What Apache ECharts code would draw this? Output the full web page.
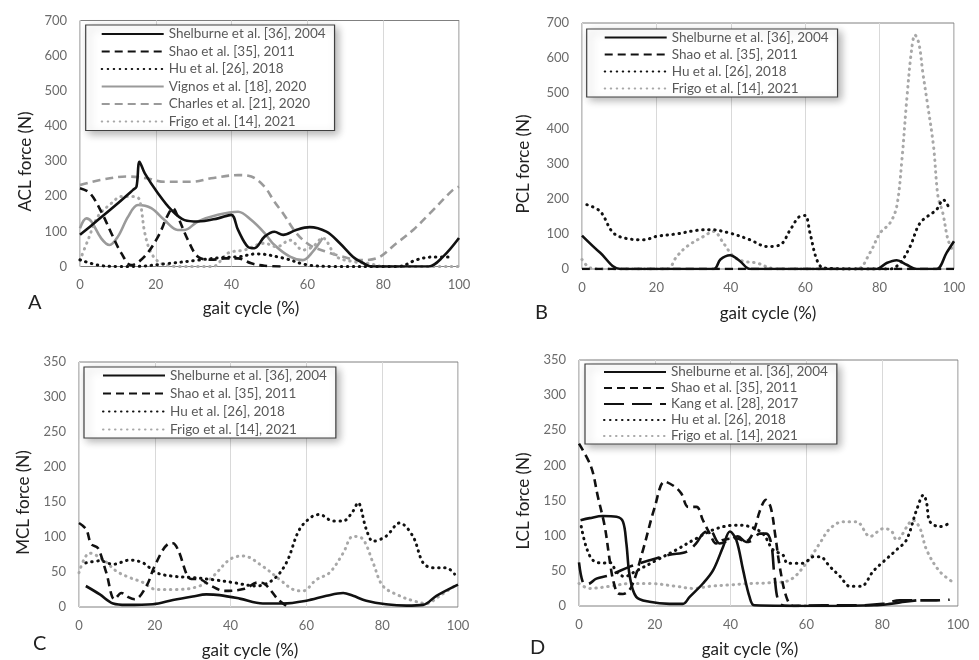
<!DOCTYPE html>
<html><head><meta charset="utf-8">
<script src="https://cdn.jsdelivr.net/npm/echarts@6/dist/echarts.min.js"></script>
<style>html,body{margin:0;padding:0;background:#fff}#c{width:979px;height:660px}</style>
</head><body><div id="c"></div>
<script>
// ---- series names ----
const N_SHEL = "Shelburne et al. [36], 2004";
const N_SHAO = "Shao et al. [35], 2011";
const N_KANG = "Kang et al. [28], 2017";
const N_HU   = "Hu et al. [26], 2018";
const N_VIG  = "Vignos et al. [18], 2020";
const N_CHA  = "Charles et al. [21], 2020";
const N_FRI  = "Frigo et al. [14], 2021";

const panelLetters = ["A", "B", "C", "D"];
const yTitles = ["ACL force (N)", "PCL force (N)", "MCL force (N)", "LCL force (N)"];
const xTitle = "gait cycle (%)";

// ---- A: ACL ----
const aclShel = [[0,90],[4.7,132],[10,180],[14,218],[14.9,227],[15.7,298],[17.1,265],[20.6,208],[24.1,161],[27.6,132],[31.1,128],[36.4,137],[39.9,147],[41.7,104],[44.3,56],[46,52],[48.7,85],[51.3,99],[53.6,90],[57,104],[60.6,112],[65,99],[68.5,67],[72,28],[74.7,10],[77,0],[92,0],[95.8,28],[100,81]];
const aclShao = [[0,223],[2.6,209],[5.6,156],[8.3,94],[10.9,38],[13.5,4],[17,28],[20.6,85],[23.2,147],[24.5,166],[25.8,142],[28.5,75],[31.1,28],[34.6,19],[38.2,23],[41.7,23],[45.2,9],[48.7,2],[54,0]];
const aclHu = [[0,19],[4.7,4],[10,0],[14,0],[22.8,8],[31.1,18],[37,25],[42,28],[46.6,36],[53.6,24],[59.8,5],[66.8,0],[84,0],[88.8,19],[93,27],[97.5,27]];
const aclVig = [[0,109],[1.7,137],[3,128],[5.6,80],[7.8,61],[10,85],[12.7,142],[15.3,175],[18.8,166],[22.3,132],[25.8,104],[27.6,104],[31.1,128],[36.4,147],[41.7,156],[45.2,132],[48.7,95],[51.3,61],[55.4,28],[58.8,18],[61.4,42],[64,81]];
const aclCha = [[0,232],[5.3,246],[12.3,256],[17.6,251],[22.3,241],[29.4,241],[34.6,251],[41.7,260],[45.2,256],[48.7,227],[51.3,184],[53.6,151],[57.1,95],[60.6,61],[65,42],[69.4,28],[73.8,18],[78.2,23],[83.5,66],[87.9,104],[92.3,151],[98.4,218],[100,227]];
const aclFri = [[0,18],[2.1,75],[4.7,142],[8.3,180],[10.9,199],[14.4,199],[15.7,190],[17.1,95],[18.8,38],[21.4,9],[25.8,0],[35,0],[39,38],[43.4,47],[48.7,66],[51.9,56],[55.4,75],[58.8,47],[61.4,56],[64,81],[67.7,28],[72,14],[76.5,8],[80,0],[100,0]];

// ---- B: PCL ----
const pclShel = [[0,95],[4.9,46],[10.3,0],[35.4,0],[37.2,27],[39.8,39],[42.5,22],[45.2,0],[79.2,0],[81.9,17],[84.6,25],[87.3,12],[90,0],[95.3,0],[98,46],[100,79]];
const pclShao = [[0,0],[100,0]];
const pclHu = [[1.3,183],[4.9,164],[8.5,102],[13,85],[16.6,83],[20.1,93],[25.5,100],[30.9,110],[34.5,112],[39.8,102],[45.2,83],[49.7,64],[53.3,69],[56,112],[58.6,150],[60,152],[61.3,102],[63.1,27],[64.9,3],[73.9,0],[82.8,0],[85.5,17],[88.2,64],[90.9,131],[95.3,169],[97.1,197],[98.9,169]];
const pclFri = [[0,27],[2.2,3],[5.8,0],[22.8,0],[25.5,36],[28.2,64],[32.7,93],[35.4,107],[38,74],[40.7,36],[43.4,22],[47,17],[50.6,3],[54,0],[73.9,0],[77.4,46],[80.1,102],[82.8,131],[84.6,178],[86,311],[87.3,482],[88.6,624],[89.5,666],[90.6,640],[91.6,560],[92.7,482],[94.5,349],[95.7,206],[97,159],[98.4,83],[100,46]];

// ---- C: MCL ----
const mclShel = [[1.8,30],[5.5,18],[9,5],[12.5,3],[19.5,4],[24.8,10],[30,15],[33.6,18],[37.1,17],[42.4,12],[48.5,5],[53.8,5],[60,9],[65.3,16],[69.7,20],[72.3,16],[75.8,9],[81,4],[86.4,2],[90.8,3],[94.3,16],[100,32]];
const mclShao = [[0,120],[1.9,111],[3.2,90],[5,84],[7.2,49],[9.4,11],[11.2,20],[13,14],[14.7,11],[17.8,30],[20,59],[23.5,90],[24.8,91],[26.1,82],[29.6,40],[31.4,40],[34.9,30],[38.4,23],[43.7,26],[47.2,35],[49,33],[52.5,11],[55.1,0]];
const mclHu = [[1.8,63],[5.5,66],[9,61],[13.4,67],[16.9,63],[20.4,49],[24.8,44],[30,42],[35.4,39],[40.6,35],[46.8,30],[51.2,39],[54.7,63],[58.2,111],[61.7,130],[63.5,132],[67,123],[69.7,123],[72.3,137],[73.6,149],[75.8,111],[77.6,94],[81,101],[84.6,120],[88.1,101],[90.8,63],[93.4,56],[96.9,56],[99.1,47]];
const mclFri = [[0,49],[2.8,77],[6.3,68],[9.9,51],[13.4,42],[16.9,35],[20.4,25],[25.7,25],[31.8,30],[35.4,44],[39.8,68],[43.3,73],[48.5,58],[53,39],[56.5,25],[59.1,23],[62.6,39],[66.1,49],[69.7,77],[72.3,101],[74.9,97],[77.6,63],[80.2,30],[84.6,16],[88.1,9],[91.6,5],[95.2,16],[99.6,32]];

// ---- D: LCL ----
const lclShel = [[0.4,122],[2.8,125],[6.3,128],[9.9,127],[11.6,120],[12.5,89],[13.4,42],[15.1,13],[18.6,6],[23.9,3],[27.4,3],[29.2,13],[32.7,32],[35.4,51],[38,84],[39.8,106],[41.5,94],[43.3,51],[45,13],[46.3,1],[64,0],[78,1],[82,3],[86,6],[89,8]];
const lclShao = [[0,231],[3.2,198],[5,155],[6.8,113],[8.1,65],[9,37],[10.3,18],[11.6,17],[13.8,27],[16.9,80],[20,141],[22.6,177],[25.2,170],[27,160],[28.8,141],[31,141],[32.7,122],[34.5,103],[36.2,89],[38,94],[41.5,96],[44,92],[46,105],[47.7,135],[49.3,151],[50.6,140],[51.8,100],[53,55],[54.7,13],[56.5,0],[60,0]];
const lclKang = [[0,62],[1.5,30],[2.8,32],[4.6,39],[8.1,44],[13.4,56],[18.6,65],[23.9,73],[28.3,77],[30.9,89],[32.7,103],[34.5,108],[37.1,89],[39.8,94],[41.9,99],[44.1,91],[45.9,94],[47.7,103],[49.4,103],[50.7,89],[51.6,42],[52.9,4],[55.6,0],[64.4,1],[73.2,1],[80.2,3],[84.6,8],[88.1,8],[94.3,8],[97.8,9]];
const lclHu = [[0.6,113],[1.9,84],[3.7,65],[6.3,61],[8.1,62],[10,48],[12,42],[15.1,50],[20.4,65],[25.7,80],[30.9,96],[36.2,110],[41.5,115],[45,113],[48.5,103],[51.2,80],[53.9,72],[55,61],[59.2,61],[61.8,70],[63.6,70],[66.2,56],[68.9,42],[71.5,28],[74.4,28],[77.7,50],[80.3,63],[83.8,80],[86.4,94],[89.1,137],[90.9,158],[91.7,147],[92.6,120],[95.2,113],[97.9,118]];
const lclFri = [[0,32],[2.8,25],[8.1,28],[13.4,32],[18.6,32],[25.7,28],[30.1,25],[34.5,28],[39.8,30],[45,32],[50.3,33],[55.6,37],[60,61],[63.5,89],[66.2,110],[69.7,120],[73.2,120],[76.8,99],[80.3,110],[82.4,107],[83.8,94],[88.2,122],[90,110],[91.7,80],[95.2,49],[99.2,32]];

// ---- styles ----
const FONT = "Lato";
const BLACK = "#111";
const GRAY = "#9a9a9a";
const LGRAY = "#a8a8a8";
const styles = {};
styles[N_SHEL] = {color: BLACK, width: 2.6, type: "solid"};
styles[N_SHAO] = {color: BLACK, width: 2.6, type: [8, 5]};
styles[N_KANG] = {color: BLACK, width: 2.6, type: [20, 8]};
styles[N_HU]   = {color: BLACK, width: 3, type: [0.5, 5.5], cap: "round"};
styles[N_VIG]  = {color: GRAY, width: 2.6, type: "solid"};
styles[N_CHA]  = {color: GRAY, width: 2.6, type: [8, 5]};
styles[N_FRI]  = {color: LGRAY, width: 3, type: [0.5, 5.5], cap: "round"};

const grids = [
  {left: 80, top: 20.5, width: 379, height: 246},
  {left: 582, top: 23, width: 372, height: 246},
  {left: 79, top: 362, width: 379, height: 246},
  {left: 579, top: 360, width: 379, height: 246}
];
const yMax = [700, 700, 350, 350];
const yInt = [100, 100, 50, 50];
const xNameGap = [34, 36, 35, 35];
const xNamePad = [[0, 37, 0, 0], [0, 0, 0, 0], [0, 37, 0, 0], [0, 37, 0, 0]];
const yNameGap = [46, 50, 47, 47];

const panels = [
  [[N_SHEL, aclShel], [N_SHAO, aclShao], [N_HU, aclHu], [N_VIG, aclVig], [N_CHA, aclCha], [N_FRI, aclFri]],
  [[N_SHEL, pclShel], [N_SHAO, pclShao], [N_HU, pclHu], [N_FRI, pclFri]],
  [[N_SHEL, mclShel], [N_SHAO, mclShao], [N_HU, mclHu], [N_FRI, mclFri]],
  [[N_SHEL, lclShel], [N_SHAO, lclShao], [N_KANG, lclKang], [N_HU, lclHu], [N_FRI, lclFri]]
];

const legendPos = [
  {left: 85.7, top: 25, itemGap: 3.5, padding: [2, 9, 2, 15]},
  {left: 586.7, top: 29, itemGap: 3, padding: [1.5, 9, 1.5, 17]},
  {left: 84, top: 367, itemGap: 4, padding: [1.5, 9, 1.5, 18]},
  {left: 585, top: 364, itemGap: 2, padding: [1, 9, 1, 18]}
];
const letterPos = [[28, 293], [535, 303], [33, 634], [530, 638]];

const series = [];
panels.forEach((p, i) => {
  p.forEach(([name, data]) => {
    const s = styles[name];
    series.push({
      type: "line", name: name, xAxisIndex: i, yAxisIndex: i,
      data: data, smooth: 0.35, symbol: "none", showSymbol: false,
      silent: true, animation: false,
      itemStyle: {color: s.color},
      lineStyle: {color: s.color, width: s.width, type: s.type, cap: s.cap || "butt", join: "round"},
      z: name === N_FRI || name === N_VIG || name === N_CHA ? 2 : 3
    });
  });
});

const option = {
  animation: false,
  textStyle: {fontFamily: FONT},
  grid: grids.map(g => Object.assign({show: true, borderColor: "#808080", borderWidth: 1, backgroundColor: "transparent"}, g)),
  xAxis: grids.map((g, i) => ({
    type: "value", gridIndex: i, min: 0, max: 100, interval: 20,
    name: xTitle, nameLocation: "middle", nameGap: xNameGap[i],
    nameTextStyle: {fontSize: 17, color: "#222", fontFamily: FONT, padding: xNamePad[i]},
    axisLine: {show: false}, axisTick: {show: false},
    axisLabel: {fontSize: 13, color: "#6b6b6b", margin: 12, fontFamily: FONT},
    splitLine: {show: true, lineStyle: {color: "#d9d9d9", width: 1}}
  })),
  yAxis: grids.map((g, i) => ({
    type: "value", gridIndex: i, min: 0, max: yMax[i], interval: yInt[i],
    name: yTitles[i], nameLocation: "middle", nameGap: yNameGap[i], nameRotate: 90,
    nameTextStyle: {fontSize: 17, color: "#222", fontFamily: FONT, padding: [0, 36, 0, 0]},
    axisLine: {show: false}, axisTick: {show: false},
    axisLabel: {fontSize: 13, color: "#6b6b6b", margin: 13, fontFamily: FONT},
    splitLine: {show: false}
  })),
  legend: panels.map((p, i) => Object.assign({
    orient: "vertical", data: p.map(d => d[0]),
    itemWidth: 62, itemHeight: 14,
    itemStyle: {opacity: 0, borderWidth: 0},
    backgroundColor: "#fff", borderColor: "#404040", borderWidth: 1.2,
    shadowBlur: 8, shadowColor: "rgba(0,0,0,0.3)", shadowOffsetX: 3, shadowOffsetY: 3,
    textStyle: {fontSize: 13.5, color: "#595959", fontFamily: FONT},
    selectedMode: false, inactiveColor: "#ccc"
  }, legendPos[i])),
  title: panelLetters.map((t, i) => ({
    text: t, left: letterPos[i][0], top: letterPos[i][1], padding: 0,
    textStyle: {fontSize: 20, fontWeight: "normal", color: "#222", fontFamily: FONT}
  })),
  series: series
};

const chart = echarts.init(document.getElementById("c"), null, {renderer: "canvas"});
chart.setOption(option);
</script>
</body></html>
